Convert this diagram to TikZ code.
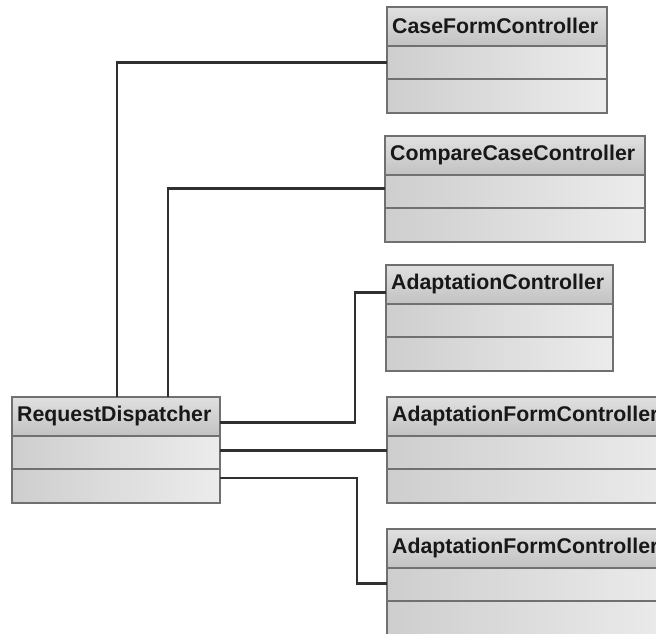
\documentclass[tikz,border=0pt]{standalone}
\usepackage{fontspec}
\setmainfont{Liberation Sans}
\definecolor{boxline}{RGB}{112,112,112}
\definecolor{wire}{RGB}{48,48,48}
\definecolor{hdrT}{RGB}{224,224,224}
\definecolor{hdrB}{RGB}{194,194,194}
\definecolor{cmpL}{RGB}{206,206,206}
\definecolor{cmpR}{RGB}{236,236,236}
\definecolor{ink}{RGB}{24,24,24}

\tikzset{
  hdr/.style={draw=boxline, line width=1.8pt, top color=hdrT, bottom color=hdrB,
    minimum height=39pt, inner sep=0pt, outer sep=0pt},
  cmp/.style={draw=boxline, line width=1.8pt, left color=cmpL, right color=cmpR,
    minimum height=33pt, inner sep=0pt, outer sep=0pt},
  cname/.style={font=\bfseries\fontsize{21.3}{25}\selectfont, text=ink, inner sep=0pt},
  wirestyle/.style={draw=wire, line width=2.3pt},
}

% class box: name, x, y (top left), width, title
\newcommand\umlclass[5]{%
  \node[hdr, minimum width=#4pt, anchor=north west] (#1-h) at (#2,#3) {};
  \node[cname, anchor=west] (#1-t) at ([xshift=5pt,yshift=1pt]#1-h.west) {#5};
  \node[cmp, minimum width=#4pt, anchor=north west] (#1-a) at (#1-h.south west) {};
  \node[cmp, minimum width=#4pt, minimum height=34pt, anchor=north west] (#1-b) at (#1-a.south west) {};
}

\begin{document}
\begin{tikzpicture}[x=1pt, y=-1pt]
  \useasboundingbox[fill=white] (0,0) rectangle (656,634);
  \clip (0,0) rectangle (656,634);

  \umlclass{cfc}{387}{7}{220}{CaseFormController}
  \umlclass{ccc}{385}{136}{260}{CompareCaseController}
  \umlclass{ac}{386}{265}{227}{AdaptationController}
  \umlclass{afa}{387}{397}{290}{AdaptationFormController}
  \umlclass{afb}{387}{529}{290}{AdaptationFormController}
  \umlclass{rd}{12}{397}{208}{RequestDispatcher}

  % associations from the dispatcher to each controller
  \draw[wirestyle] ([xshift=105pt]rd-h.north west) |- (cfc-a.west);
  \draw[wirestyle] ([xshift=156pt]rd-h.north west) |- ([yshift=3pt]ccc-a.west);
  \draw[wirestyle] ([yshift=-6pt]rd-h.east) -| ([xshift=-31pt,yshift=-8pt]ac-h.west) -- ([yshift=-8pt]ac-h.west);
  \draw[wirestyle] ([yshift=2pt]rd-a.east) -- ([yshift=2pt]rd-a.east -| afa-a.west);
  \draw[wirestyle] ([yshift=8pt]rd-b.east) -| ([xshift=-30pt,yshift=1pt]afb-a.west) -- ([yshift=1pt]afb-a.west);
\end{tikzpicture}
\end{document}
